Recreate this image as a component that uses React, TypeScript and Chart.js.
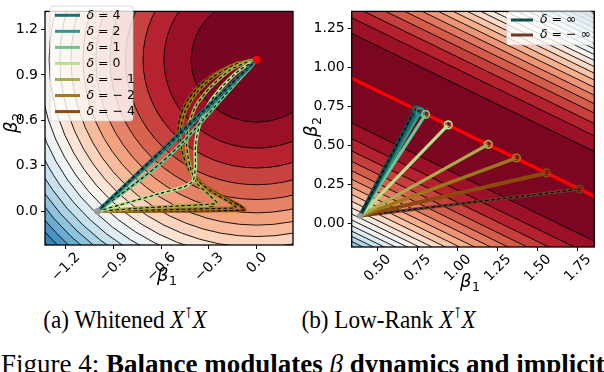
import React, { useEffect, useRef } from "react";
import { Chart, registerables } from "chart.js";

Chart.register(...registerables);

const SANS = "'DejaVu Sans', sans-serif";
const SERIF = "'Liberation Serif', 'Times New Roman', serif";
const TICK_SIZE = 14;

const rdbuAnchors = ["#67001f", "#b2182b", "#d6604d", "#f4a582", "#fddbc7", "#f7f7f7", "#d1e5f0", "#92c5de", "#4393c3", "#2166ac", "#053061"];

// ---------- Panel (a): whitened ----------
const leftXTicks = [-1.2, -0.9, -0.6, -0.3, 0.0];
const leftYTicks = [0.0, 0.3, 0.6, 0.9, 1.2];
const leftXLimits = [-1.33, 0.228];
const leftYLimits = [-0.222, 1.3185];
const leftOptimum = [0, 1];
const leftStart = [-1, 0];
const leftLevels = [0, 0.17, 0.34, 0.51, 0.68, 0.85, 1.02, 1.19, 1.36, 1.53, 1.7, 1.87, 2.04, 2.21, 2.38, 2.55, 2.72, 2.89, 3.06, 3.23, 3.4, 3.57, 3.74];
const leftDeltaLabels = ["4", "2", "1", "0", "\u2212 1", "\u2212 2", "\u2212 4"];
const leftColors = ["#1c6f6d", "#2b9b8d", "#72c48f", "#b7e08b", "#abab4d", "#9e7718", "#8c4a0c"];

const trajDelta4 = [[-1, 0], [-0.5, 0.5], [0, 1]];
const trajDelta2 = [[-1, 0], [-0.75, 0.238], [-0.5, 0.484], [-0.25, 0.737], [0, 1]];
const trajDelta1 = [[-1, 0], [-0.78, 0.17], [-0.6, 0.32], [-0.46, 0.46], [-0.34, 0.6], [-0.23, 0.73], [-0.12, 0.86], [-0.04, 0.95], [0, 1]];
const trajDelta0 = [[-1, 0], [-0.8, 0.06], [-0.6, 0.12], [-0.46, 0.16], [-0.4, 0.2], [-0.385, 0.3], [-0.385, 0.43], [-0.36, 0.57], [-0.3, 0.71], [-0.21, 0.83], [-0.11, 0.93], [0, 1]];
const trajDeltaM1 = [[-1, 0], [-0.75, 0.02], [-0.5, 0.035], [-0.32, 0.045], [-0.25, 0.055], [-0.3, 0.11], [-0.38, 0.19], [-0.42, 0.3], [-0.44, 0.43], [-0.43, 0.56], [-0.38, 0.7], [-0.29, 0.82], [-0.17, 0.93], [-0.06, 0.985], [0, 1]];
const trajDeltaM2 = [[-1, 0], [-0.7, 0.008], [-0.4, 0.015], [-0.2, 0.02], [-0.13, 0.025], [-0.17, 0.06], [-0.27, 0.12], [-0.36, 0.19], [-0.43, 0.28], [-0.47, 0.4], [-0.48, 0.53], [-0.45, 0.66], [-0.38, 0.78], [-0.27, 0.89], [-0.13, 0.97], [0, 1]];
const trajDeltaM4 = [[-1, 0], [-0.6, 0.002], [-0.3, 0.004], [-0.13, 0.006], [-0.075, 0.01], [-0.11, 0.04], [-0.22, 0.1], [-0.33, 0.17], [-0.41, 0.26], [-0.47, 0.38], [-0.495, 0.51], [-0.48, 0.63], [-0.43, 0.74], [-0.35, 0.84], [-0.24, 0.92], [-0.11, 0.98], [0, 1]];
const leftTrajectories = [trajDelta4, trajDelta2, trajDelta1, trajDelta0, trajDeltaM1, trajDeltaM2, trajDeltaM4];

// ---------- Panel (b): low rank ----------
const rightXTicks = [0.5, 0.75, 1.0, 1.25, 1.5, 1.75];
const rightYTicks = [0.0, 0.25, 0.5, 0.75, 1.0, 1.25];
const rightXLimits = [0.34, 1.8536];
const rightYLimits = [-0.1516, 1.358];
const rightSolution = [1, 2, 2.2]; // b1 + 2*b2 = 2.2
const rightLevels = [0, 0.33, 0.6, 0.87, 1.14, 1.41, 1.68, 1.95, 2.22, 2.49, 2.76, 3.03, 3.3, 3.57, 3.84, 4.11, 4.38, 4.65, 4.92, 5.19, 5.46, 5.73, 6.0, 6.27, 6.54];
const rightStart = [0.392, 0.048];
const rightEndB1 = [0.735, 0.752, 0.768, 0.801, 0.942, 1.192, 1.368, 1.555, 1.763];
const rightEndB2 = [0.73, 0.722, 0.714, 0.698, 0.631, 0.506, 0.419, 0.323, 0.219];
const rightColors = ["#0b4d48", "#1c6f6d", "#2b9b8d", "#72c48f", "#b7e08b", "#abab4d", "#9e7718", "#8c4a0c", "#6b3b27"];
const rightWidths = [4, 3.2, 3.2, 3.2, 3.2, 3.2, 3.5, 4, 3.2];
const rightDashed = [true, false, false, false, false, false, false, false, true];
const rightLegendLabels = ["\u221e", "\u2212 \u221e"];
const rightLegendColors = ["#0b4d48", "#6b3b27"];
const redLineB1 = [0.2, 2.0];
const redLineB2 = [1.0, 0.1];

// ---------- helpers ----------
function hexRgb(h: string) {
  const n = parseInt(h.slice(1), 16);
  return [(n >> 16) & 255, (n >> 8) & 255, n & 255];
}
function rdbu(t: number) {
  const tt = Math.max(0, Math.min(1, t));
  const pos = tt * (rdbuAnchors.length - 1);
  const i = Math.min(Math.floor(pos), rdbuAnchors.length - 2);
  const f = pos - i;
  const a = hexRgb(rdbuAnchors[i]);
  const b = hexRgb(rdbuAnchors[i + 1]);
  const c = a.map((v, k) => Math.round(v + (b[k] - v) * f));
  return `rgb(${c[0]},${c[1]},${c[2]})`;
}
function bandColor(levels: number[], i: number) {
  const mid = (levels[i] + levels[i + 1]) / 2;
  return rdbu((mid - levels[0]) / (levels[levels.length - 1] - levels[0]));
}
function fmtTick(v: number, digits: number) {
  const s = Math.abs(v).toFixed(digits);
  return v < -1e-9 ? "\u2212" + s : s;
}

function scalesFor(xlim: number[], ylim: number[], xt: number[], yt: number[], yd: number, xh: number, yw: number) {
  const tickFont = { family: SANS, size: TICK_SIZE };
  return {
    x: {
      type: "linear",
      min: xlim[0],
      max: xlim[1],
      afterBuildTicks: (s: any) => { s.ticks = xt.map((v) => ({ value: v })); },
      afterFit: (s: any) => { s.height = xh; },
      ticks: { display: false, autoSkip: false, minRotation: 0, maxRotation: 0 },
      grid: { drawOnChartArea: false, drawTicks: true, tickLength: 4, color: "#000", lineWidth: 1 },
      border: { display: false },
    },
    y: {
      type: "linear",
      min: ylim[0],
      max: ylim[1],
      afterBuildTicks: (s: any) => { s.ticks = yt.map((v) => ({ value: v })); },
      afterFit: (s: any) => { s.width = yw; },
      ticks: { autoSkip: false, padding: 3, color: "#000", font: tickFont, callback: (v: any) => fmtTick(Number(v), yd) },
      grid: { drawOnChartArea: false, drawTicks: true, tickLength: 4, color: "#000", lineWidth: 1 },
      border: { display: false },
    },
  };
}

function clipArea(ctx: CanvasRenderingContext2D, ca: any) {
  ctx.beginPath();
  ctx.rect(ca.left, ca.top, ca.right - ca.left, ca.bottom - ca.top);
  ctx.clip();
}

function circleContourPlugin(center: number[], levels: number[]) {
  return {
    id: "circleContours",
    beforeDatasetsDraw(chart: any) {
      const { ctx, chartArea: ca } = chart;
      const xs = chart.scales.x, ys = chart.scales.y;
      ctx.save();
      clipArea(ctx, ca);
      ctx.fillStyle = "#fff";
      ctx.fillRect(ca.left, ca.top, ca.right - ca.left, ca.bottom - ca.top);
      const cx = xs.getPixelForValue(center[0]);
      const cy = ys.getPixelForValue(center[1]);
      const sx = Math.abs(xs.getPixelForValue(center[0] + 1) - cx);
      const sy = Math.abs(ys.getPixelForValue(center[1] + 1) - cy);
      for (let i = levels.length - 2; i >= 0; i--) {
        const r = Math.sqrt(levels[i + 1]);
        ctx.beginPath();
        ctx.ellipse(cx, cy, r * sx, r * sy, 0, 0, Math.PI * 2);
        ctx.fillStyle = bandColor(levels, i);
        ctx.fill();
      }
      ctx.strokeStyle = "#000";
      ctx.lineWidth = 0.9;
      for (let i = 1; i < levels.length; i++) {
        const r = Math.sqrt(levels[i]);
        ctx.beginPath();
        ctx.ellipse(cx, cy, r * sx, r * sy, 0, 0, Math.PI * 2);
        ctx.stroke();
      }
      ctx.restore();
    },
  };
}

function stripContourPlugin(sol: number[], levels: number[], xlim: number[]) {
  return {
    id: "stripContours",
    beforeDatasetsDraw(chart: any) {
      const { ctx, chartArea: ca } = chart;
      const xs = chart.scales.x, ys = chart.scales.y;
      const [a, b, c] = sol;
      const x0 = xlim[0] - 1, x1 = xlim[1] + 1;
      const P = (bx: number, s: number) => [xs.getPixelForValue(bx), ys.getPixelForValue((s - a * bx) / b)];
      ctx.save();
      clipArea(ctx, ca);
      ctx.fillStyle = "#fff";
      ctx.fillRect(ca.left, ca.top, ca.right - ca.left, ca.bottom - ca.top);
      for (let i = levels.length - 2; i >= 0; i--) {
        const d = Math.sqrt(levels[i + 1]);
        const p = [P(x0, c + d), P(x1, c + d), P(x1, c - d), P(x0, c - d)];
        ctx.beginPath();
        ctx.moveTo(p[0][0], p[0][1]);
        for (let k = 1; k < 4; k++) ctx.lineTo(p[k][0], p[k][1]);
        ctx.closePath();
        ctx.fillStyle = bandColor(levels, i);
        ctx.fill();
      }
      ctx.strokeStyle = "#000";
      ctx.lineWidth = 0.9;
      for (let i = 1; i < levels.length; i++) {
        const d = Math.sqrt(levels[i]);
        for (const s of [c + d, c - d]) {
          const p0 = P(x0, s), p1 = P(x1, s);
          ctx.beginPath();
          ctx.moveTo(p0[0], p0[1]);
          ctx.lineTo(p1[0], p1[1]);
          ctx.stroke();
        }
      }
      ctx.restore();
    },
  };
}

type LegendSpec = { x: number; y: number; w: number; h: number; rowY0: number; rowH: number; hx0: number; hx1: number; tx: number; labels: string[]; colors: string[] };
type AxisSpec = { xTitle: number[]; yTitle: number[]; xTicks: number[]; xDigits: number };

function drawBeta(ctx: CanvasRenderingContext2D, x: number, y: number, sub: string, rotate: boolean) {
  ctx.save();
  ctx.translate(x, y);
  if (rotate) ctx.rotate(-Math.PI / 2);
  ctx.fillStyle = "#000";
  ctx.textBaseline = "alphabetic";
  ctx.textAlign = "left";
  ctx.font = `italic 18px ${SANS}`;
  const wB = ctx.measureText("\u03b2").width;
  ctx.font = `12.5px ${SANS}`;
  const wS = ctx.measureText(sub).width;
  const total = wB + wS + 0.5;
  ctx.font = `italic 18px ${SANS}`;
  ctx.fillText("\u03b2", -total / 2, 5);
  ctx.font = `12.5px ${SANS}`;
  ctx.fillText(sub, -total / 2 + wB + 0.5, 8.5);
  ctx.restore();
}

function decorPlugin(lg: LegendSpec, ax: AxisSpec) {
  return {
    id: "decor",
    afterDatasetsDraw(chart: any) {
      const { ctx, chartArea: ca } = chart;
      ctx.save();
      ctx.strokeStyle = "#000";
      ctx.lineWidth = 1.3;
      ctx.strokeRect(ca.left, ca.top, ca.right - ca.left, ca.bottom - ca.top);
      // legend box
      const r = 3;
      ctx.beginPath();
      ctx.moveTo(lg.x + r, lg.y);
      ctx.arcTo(lg.x + lg.w, lg.y, lg.x + lg.w, lg.y + lg.h, r);
      ctx.arcTo(lg.x + lg.w, lg.y + lg.h, lg.x, lg.y + lg.h, r);
      ctx.arcTo(lg.x, lg.y + lg.h, lg.x, lg.y, r);
      ctx.arcTo(lg.x, lg.y, lg.x + lg.w, lg.y, r);
      ctx.closePath();
      ctx.fillStyle = "rgba(255,255,255,0.8)";
      ctx.fill();
      ctx.strokeStyle = "rgba(204,204,204,0.8)";
      ctx.lineWidth = 0.8;
      ctx.stroke();
      lg.labels.forEach((lab, i) => {
        const yy = lg.rowY0 + i * lg.rowH;
        ctx.strokeStyle = lg.colors[i];
        ctx.lineWidth = 3;
        ctx.beginPath();
        ctx.moveTo(lg.hx0, yy);
        ctx.lineTo(lg.hx1, yy);
        ctx.stroke();
        ctx.fillStyle = "#000";
        ctx.textBaseline = "middle";
        ctx.textAlign = "left";
        ctx.font = `italic 12.5px ${SANS}`;
        ctx.fillText("\u03b4", lg.tx, yy);
        const w = ctx.measureText("\u03b4").width;
        ctx.font = `12.5px ${SANS}`;
        ctx.fillText(" = " + lab, lg.tx + w, yy);
      });
      ctx.restore();
    },
    afterDraw(chart: any) {
      const { ctx, chartArea: ca } = chart;
      const xs = chart.scales.x;
      // rotated x tick labels, centred on their ticks (matplotlib style)
      ctx.save();
      ctx.fillStyle = "#000";
      ctx.font = `${TICK_SIZE}px ${SANS}`;
      ctx.textAlign = "center";
      ctx.textBaseline = "middle";
      const c45 = Math.SQRT1_2;
      for (const v of ax.xTicks) {
        const label = fmtTick(v, ax.xDigits);
        const w = ctx.measureText(label).width;
        const h = 0.75 * TICK_SIZE;
        const H = (w + h) * c45;
        const px = xs.getPixelForValue(v);
        const py = ca.bottom + 6 + H / 2;
        ctx.save();
        ctx.translate(px, py);
        ctx.rotate(-Math.PI / 4);
        ctx.fillText(label, 0, 0.5);
        ctx.restore();
      }
      ctx.restore();
      drawBeta(ctx, ax.xTitle[0], ax.xTitle[1], "1", false);
      drawBeta(ctx, ax.yTitle[0], ax.yTitle[1], "2", true);
    },
  };
}

const pts = (arr: number[][]) => arr.map(([x, y]) => ({ x, y }));

function leftConfig(): any {
  const datasets: any[] = [];
  let k = 0;
  for (let i = leftTrajectories.length - 1; i >= 0; i--) {
    const d = pts(leftTrajectories[i]);
    datasets.push({ data: d, showLine: true, borderColor: leftColors[i], borderWidth: 3.5, pointRadius: 0, tension: 0.2, order: 1000 - k++ });
    datasets.push({ data: d, showLine: true, borderColor: "#000", borderWidth: 1.1, borderDash: [3.5, 2.5], pointRadius: 0, tension: 0.2, order: 1000 - k++ });
  }
  datasets.push({ data: [{ x: leftStart[0], y: leftStart[1] }], pointRadius: 3, pointBackgroundColor: "#9a9a9a", pointBorderColor: "#9a9a9a", order: 0 });
  datasets.push({ data: [{ x: leftOptimum[0], y: leftOptimum[1] }], pointRadius: 3.5, pointBackgroundColor: "#ff0000", pointBorderColor: "#ff0000", order: 0 });
  return {
    type: "scatter",
    data: { datasets },
    options: {
      animation: false,
      responsive: false,
      devicePixelRatio: 1,
      events: [],
      layout: { padding: { top: 2, right: 7, left: 0, bottom: 0 } },
      plugins: { legend: { display: false }, tooltip: { enabled: false } },
      scales: scalesFor(leftXLimits, leftYLimits, leftXTicks, leftYTicks, 1, 55, 45),
    },
    plugins: [
      circleContourPlugin(leftOptimum, leftLevels),
      decorPlugin(
        { x: 50, y: 6, w: 83, h: 115, rowY0: 15.3, rowH: 16.05, hx0: 55, hx1: 80, tx: 86.5, labels: leftDeltaLabels, colors: leftColors },
        { xTitle: [167, 276], yTitle: [12, 123], xTicks: leftXTicks, xDigits: 1 }
      ),
    ],
  };
}

function rightConfig(): any {
  const datasets: any[] = [];
  let k = 0;
  datasets.push({ data: pts([[redLineB1[0], redLineB2[0]], [redLineB1[1], redLineB2[1]]]), showLine: true, borderColor: "#ff0000", borderWidth: 3.3, pointRadius: 0, clip: 0, order: 2000 });
  for (let i = rightEndB1.length - 1; i >= 0; i--) {
    const d = pts([rightStart, [rightEndB1[i], rightEndB2[i]]]);
    datasets.push({ data: d, showLine: true, borderColor: rightColors[i], borderWidth: rightWidths[i], pointRadius: 0, order: 1000 - k++ });
    if (rightDashed[i]) {
      datasets.push({ data: d, showLine: true, borderColor: "#000", borderWidth: 1.1, borderDash: [3.5, 2.5], pointRadius: 0, order: 1000 - k++ });
    }
  }
  datasets.push({
    data: rightEndB1.map((x, i) => ({ x, y: rightEndB2[i] })),
    pointRadius: 3.8,
    pointBorderWidth: 1.7,
    pointBorderColor: rightColors,
    pointBackgroundColor: "rgba(0,0,0,0)",
    order: 1,
  });
  datasets.push({ data: rightEndB1.map((x, i) => ({ x, y: rightEndB2[i] })), pointRadius: 1, pointBorderWidth: 0, pointBackgroundColor: "#1a1a1a", order: 0 });
  datasets.push({ data: [{ x: rightStart[0], y: rightStart[1] }], pointRadius: 2.6, pointBackgroundColor: "#9a9a9a", pointBorderColor: "#9a9a9a", order: 0 });
  return {
    type: "scatter",
    data: { datasets },
    options: {
      animation: false,
      responsive: false,
      devicePixelRatio: 1,
      events: [],
      layout: { padding: { top: 5, right: 9.7, left: 0, bottom: 0 } },
      plugins: { legend: { display: false }, tooltip: { enabled: false } },
      scales: scalesFor(rightXLimits, rightYLimits, rightXTicks, rightYTicks, 2, 53, 51.7),
    },
    plugins: [
      stripContourPlugin(rightSolution, rightLevels, rightXLimits),
      decorPlugin(
        { x: 206.5, y: 11.7, w: 86.5, h: 33.3, rowY0: 20, rowH: 15, hx0: 211, hx1: 233, tx: 240, labels: rightLegendLabels, colors: rightLegendColors },
        { xTitle: [170, 282], yTitle: [12, 127], xTicks: rightXTicks, xDigits: 2 }
      ),
    ],
  };
}

const supStyle: React.CSSProperties = { fontSize: "0.62em", position: "relative", top: "-0.6em", fontStyle: "normal", margin: "0 0.5px" };
const subCaptionStyle: React.CSSProperties = {
  position: "absolute",
  top: 309,
  width: 220,
  textAlign: "center",
  font: `23.2px/23px ${SERIF}`,
  whiteSpace: "nowrap",
  color: "#000",
  transform: "scaleY(1.07)",
  transformOrigin: "50% 20px",
};

export default function App() {
  const leftRef = useRef<HTMLCanvasElement>(null);
  const rightRef = useRef<HTMLCanvasElement>(null);
  useEffect(() => {
    const c1 = new Chart(leftRef.current as HTMLCanvasElement, leftConfig());
    const c2 = new Chart(rightRef.current as HTMLCanvasElement, rightConfig());
    return () => {
      c1.destroy();
      c2.destroy();
    };
  }, []);
  return (
    <div style={{ position: "absolute", left: 0, top: 0, width: 604, height: 372, overflow: "hidden", background: "#fff" }}>
      <canvas ref={leftRef} width={300} height={300} style={{ position: "absolute", left: 0, top: 0, width: 300, height: 300 }} />
      <canvas ref={rightRef} width={304} height={300} style={{ position: "absolute", left: 300, top: 0, width: 304, height: 300 }} />
      <div style={{ ...subCaptionStyle, left: 15 }}>
        (a) Whitened <i>X</i>
        <span style={supStyle}>{"\u22ba"}</span>
        <i>X</i>
      </div>
      <div style={{ ...subCaptionStyle, left: 278.5 }}>
        (b) Low-Rank <i>X</i>
        <span style={supStyle}>{"\u22ba"}</span>
        <i>X</i>
      </div>
      <div style={{ position: "absolute", left: 1, top: 351.4, font: `27px/27px ${SERIF}`, whiteSpace: "nowrap", color: "#000" }}>
        Figure 4: <b>Balance modulates </b>
        <i>{"\u03b2"}</i>
        <b> dynamics and implicit</b>
      </div>
    </div>
  );
}
